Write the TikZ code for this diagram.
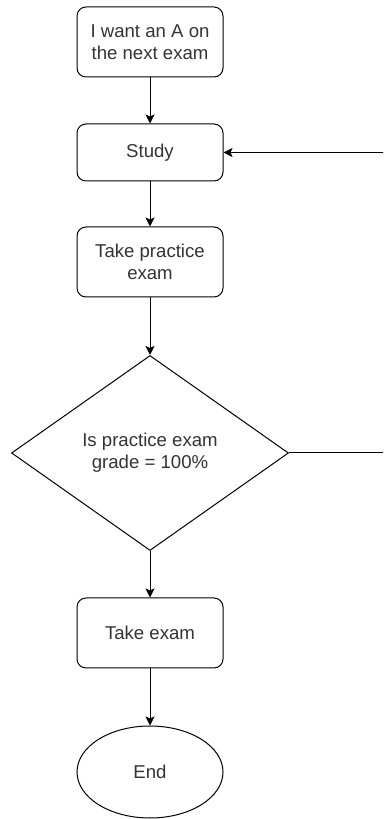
\documentclass[tikz,border=0pt]{standalone}
\usepackage{fontspec}
\setmainfont{Liberation Sans}
\usetikzlibrary{shapes.geometric,arrows.meta}
\definecolor{txt}{RGB}{51,51,51}
\begin{document}
\begin{tikzpicture}[x=1pt,y=1pt,
  every node/.style={font=\fontsize{18.6}{21.7}\selectfont, text=txt, align=center, inner sep=0pt},
  procbox/.style={draw, line width=1pt, rounded corners=9pt, minimum width=146pt},
  decbox/.style={draw, line width=1pt, diamond, minimum width=277pt, minimum height=195pt},
  endbox/.style={draw, line width=1pt, ellipse, minimum width=146pt, minimum height=92pt},
  flow/.style={draw, line width=1pt, -{Stealth[length=9pt,width=9pt,inset=2pt]}}]
\useasboundingbox (0,0) rectangle (383,819);
\clip (0,0) rectangle (383,819);
\node[procbox, minimum height=70pt] (start) at (150,777) {I want an A on\\the next exam};
\node[procbox, minimum height=57pt] (study) at (150,666.5) {Study};
\node[procbox, minimum height=70pt] (practice) at (150,557) {Take practice\\exam};
\node[decbox] (dec) at (150,366) {Is practice exam\\grade = 100\%};
\node[procbox, minimum height=70pt] (exam) at (150,186) {Take exam};
\node[endbox] (end) at (150,47) {End};
\coordinate (lp) at (400,366);
\draw[flow] (start) -- (study);
\draw[flow] (study) -- (practice);
\draw[flow] (practice) -- (dec);
\draw[flow] (dec) -- (exam);
\draw[flow] (exam) -- (end);
\draw[flow] (dec.east) -- (lp) |- (study.east);
\end{tikzpicture}
\end{document}
